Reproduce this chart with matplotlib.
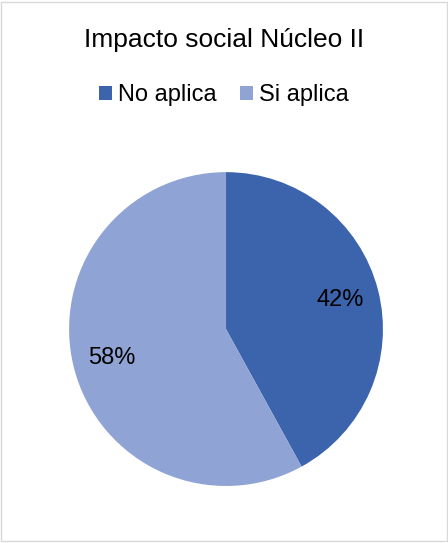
import matplotlib.pyplot as plt
from matplotlib.patches import Rectangle, Patch

plt.rcParams['font.family'] = ['Liberation Sans', 'DejaVu Sans']

categorias = ['No aplica', 'Si aplica']
valores = [42, 58]
colores = ['#3C64AC', '#8FA3D4']

fig = plt.figure(figsize=(4.48, 5.43), dpi=100)
fig.patch.set_facecolor('white')
fig.patches.append(Rectangle((0.003, 0.003), 0.994, 0.994, transform=fig.transFigure,
                             fill=False, edgecolor='#D9D9D9', linewidth=1))

ax = fig.add_axes([0.154, 0.105, 0.701, 0.578])
ax.pie(valores, colors=colores, startangle=90, counterclock=False,
       autopct='%1.0f%%', pctdistance=0.75,
       textprops={'fontsize': 17, 'color': 'black'})
ax.set_xlim(-1, 1)
ax.set_ylim(-1, 1)
ax.set_aspect('equal')

fig.text(0.5, 0.926, 'Impacto social Núcleo II', ha='center', va='center', fontsize=19)

handles = [Patch(facecolor=c, label=l) for c, l in zip(colores, categorias)]
fig.legend(handles=handles, loc='center', bbox_to_anchor=(0.5, 0.825), ncol=2,
           frameon=False, fontsize=17, handlelength=0.55, handleheight=0.55,
           handletextpad=0.25, columnspacing=1.0)

fig.savefig('out.png', dpi=100)
